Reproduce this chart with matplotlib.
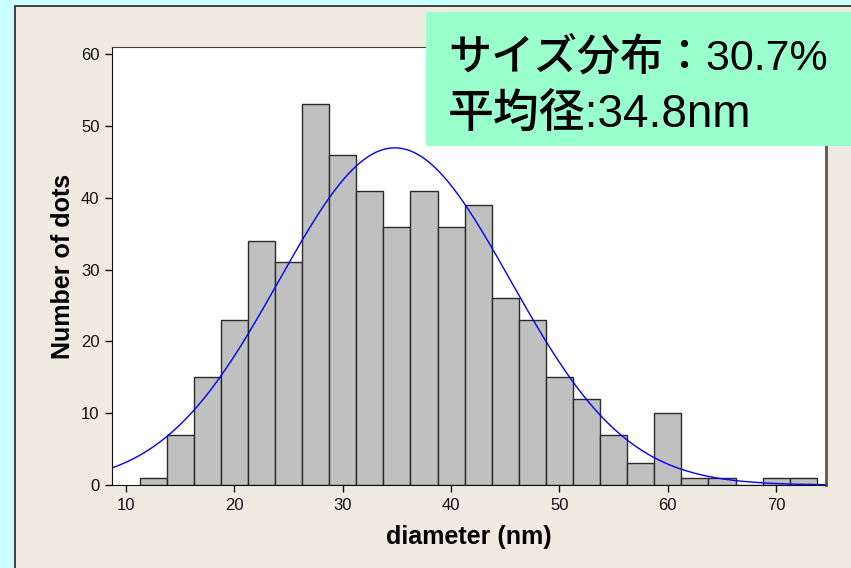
"""Histogram of dot diameters with fitted normal curve."""
import numpy as np
import matplotlib
matplotlib.use("Agg")
import matplotlib.pyplot as plt
from matplotlib.patches import Rectangle

# bin centres (nm) and counts
bin_centers = [12.5, 15, 17.5, 20, 22.5, 25, 27.5, 30, 32.5, 35, 37.5, 40, 42.5,
               45, 47.5, 50, 52.5, 55, 57.5, 60, 62.5, 65, 67.5, 70, 72.5]
counts = [1, 7, 15, 23, 34, 31, 53, 46, 41, 36, 41, 36, 39,
          26, 23, 15, 12, 7, 3, 10, 1, 1, 0, 1, 1]
bin_width = 2.5

mean_nm = 34.8        # 平均径
cv_pct = 30.7         # サイズ分布
x_ticks = [10, 20, 30, 40, 50, 60, 70]
y_ticks = [0, 10, 20, 30, 40, 50, 60]

W, H = 851, 568
fig = plt.figure(figsize=(W / 100, H / 100), dpi=100, facecolor="#ccffff")

# beige panel with dark border
fig.patches.append(Rectangle((15 / W, -0.01), 1.0, (H - 6) / H + 0.01,
                             transform=fig.transFigure, facecolor="#efebe1",
                             edgecolor="#222222", linewidth=1.2, zorder=-2))

ax = fig.add_axes([112 / W, (H - 485) / H, (826 - 112) / W, (485 - 47) / H])
ax.set_facecolor("white")

ax.bar(bin_centers, counts, width=bin_width, color="#c0c0c0",
       edgecolor="#2a2a2a", linewidth=1.0, zorder=2)

# normal fit from the stated mean and coefficient of variation
sd = mean_nm * cv_pct / 100
xs = np.linspace(8.7, 74.6, 400)
ys = sum(counts) * bin_width / (sd * np.sqrt(2 * np.pi)) * np.exp(-0.5 * ((xs - mean_nm) / sd) ** 2)
ax.plot(xs, ys, color="#0000ff", linewidth=1.0, zorder=3)

ax.set_xlim(8.7, 74.6)
ax.set_ylim(0, 61)
ax.set_xticks(x_ticks)
ax.set_yticks(y_ticks)
ax.tick_params(axis="both", direction="out", length=5, width=1, color="#111111",
               labelsize=12, pad=4, labelcolor="#111111")
for lab in ax.get_xticklabels() + ax.get_yticklabels():
    lab.set_family("Liberation Sans")

ax.spines["left"].set_color("#111111")
ax.spines["bottom"].set_color("#111111")
ax.spines["top"].set_color("#444444")
ax.spines["right"].set_color("#555555")
ax.spines["right"].set_linewidth(2)
for s in ax.spines.values():
    s.set_zorder(4)

ax.set_xlabel("diameter (nm)", fontsize=18, fontweight="bold",
              family="Liberation Sans", labelpad=9)
ax.set_ylabel("Number of dots", fontsize=18, fontweight="bold",
              family="Liberation Sans", labelpad=4)

# green annotation box
fig.patches.append(Rectangle((426 / W, (H - 146) / H), 1.0, (146 - 12) / H,
                             transform=fig.transFigure, facecolor="#99ffcc",
                             edgecolor="none", zorder=5))
jp = ["Liberation Sans", "Noto Sans CJK JP"]
fig.text(448 / W, (H - 70) / H, f"サイズ分布：{cv_pct}%", fontsize=31,
         family=jp, fontweight="medium", va="baseline", ha="left", zorder=6)
fig.text(448 / W, (H - 128) / H, f"平均径:{mean_nm}nm", fontsize=33,
         family=jp, fontweight="medium", va="baseline", ha="left", zorder=6)

fig.savefig("out.png", dpi=100, facecolor=fig.get_facecolor())
